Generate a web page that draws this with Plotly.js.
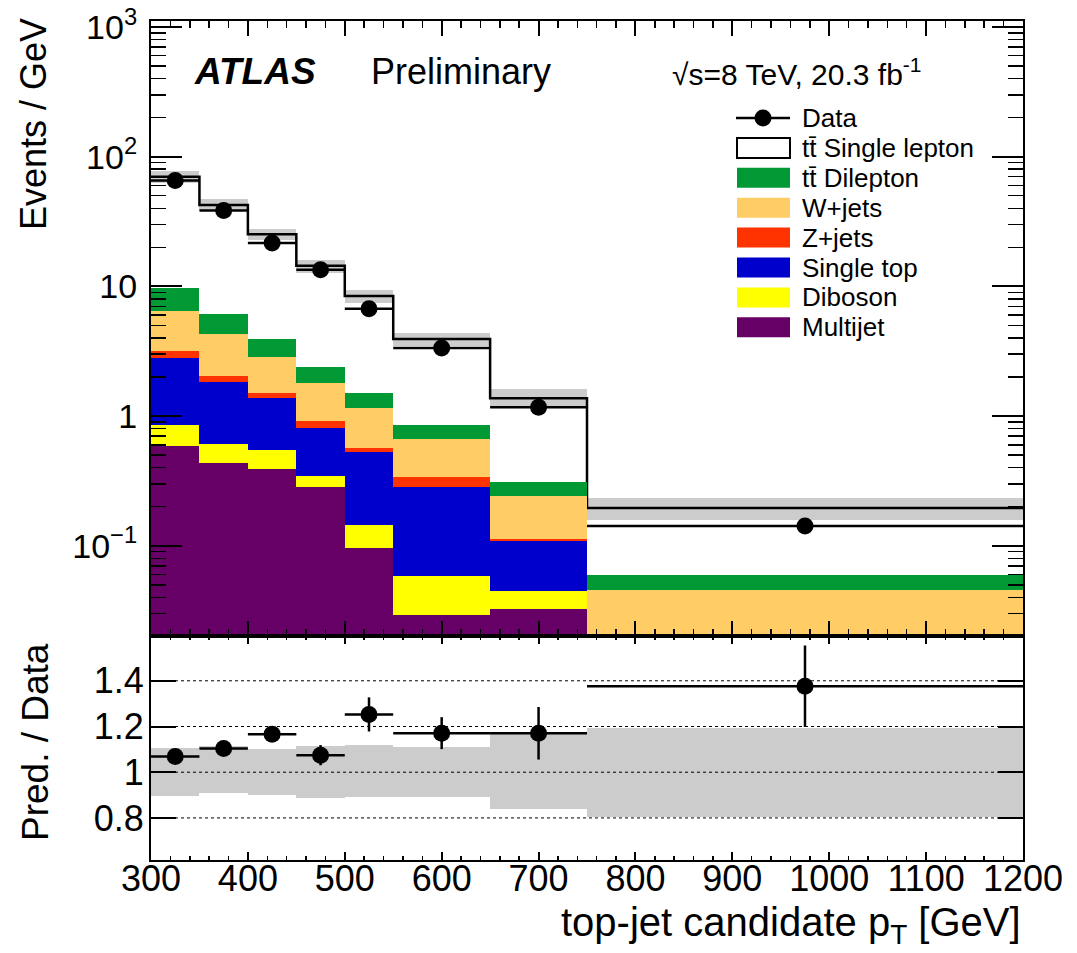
<!DOCTYPE html>
<html><head><meta charset="utf-8">
<script src="https://cdn.plot.ly/plotly-3.0.1.min.js"></script>
<style>html,body{margin:0;padding:0;background:#fff}</style>
</head><body><div id="plot" style="width:1077px;height:953px"></div>
<script>
// ---------- data (Events / GeV) ----------
const binEdges   = [300, 350, 400, 450, 500, 550, 650, 750, 1200];
const ttSingle   = [60.3, 36.3, 21.25, 12.0, 6.91, 3.07, 1.06, 0.136];
const ttDilepton = [3.2, 1.81, 1.08, 0.61, 0.35, 0.192, 0.067, 0.0139];
const wJets      = [3.33, 2.22, 1.37, 0.87, 0.59, 0.324, 0.130, 0.0385];
const zJets      = [0.39, 0.21, 0.13, 0.107, 0.045, 0.055, 0.0027, 0.001];
const singleTop  = [1.927, 1.232, 0.823, 0.466, 0.381, 0.223, 0.065, 0.004];
const diboson    = [0.263, 0.176, 0.159, 0.062, 0.047, 0.0295, 0.0122, 0.001];
const multijet   = [0.59, 0.432, 0.388, 0.285, 0.0966, 0.0292, 0.0325, 0.001];
const dataVals   = [65.5, 38.4, 21.6, 13.4, 6.72, 3.35, 1.17, 0.142];
const dataErr    = [1.2, 0.7, 0.55, 0.55, 0.4, 0.2, 0.115, 0.0184];
// relative prediction uncertainty (up / down)
const uncUp      = [0.108, 0.114, 0.102, 0.114, 0.117, 0.109, 0.178, 0.193];
const uncDn      = [0.102, 0.091, 0.099, 0.112, 0.109, 0.109, 0.163, 0.197];
// tick labels
const yTopTickVals  = [0.1, 1, 10, 100, 1000];
const yTopTickText  = ['10<sup>\u22121</sup>', '1', '10', '10<sup>2</sup>', '10<sup>3</sup>'];
const yRatTickVals  = [0.8, 1.0, 1.2, 1.4];
const yRatTickText  = ['0.8', '1', '1.2', '1.4'];

// ---------- derived ----------
const nb = binEdges.length - 1;
const centers = [], widths = [], halfW = [];
for (let i = 0; i < nb; i++) {
  centers.push((binEdges[i] + binEdges[i + 1]) / 2);
  widths.push(binEdges[i + 1] - binEdges[i]);
  halfW.push((binEdges[i + 1] - binEdges[i]) / 2);
}
const comps = [
  {name: 'Multijet',   vals: multijet,   color: '#660066'},
  {name: 'Diboson',    vals: diboson,    color: '#ffff00'},
  {name: 'Single top', vals: singleTop,  color: '#0000cc'},
  {name: 'Z+jets',     vals: zJets,      color: '#ff3300'},
  {name: 'W+jets',     vals: wJets,      color: '#ffcc66'},
  {name: 'tt\u0304 Dilepton', vals: ttDilepton, color: '#009933'}
];
const total = centers.map((_, i) =>
  ttSingle[i] + ttDilepton[i] + wJets[i] + zJets[i] + singleTop[i] + diboson[i] + multijet[i]);
const bandBase = total.map((t, i) => t * (1 - uncDn[i]));
const bandSize = total.map((t, i) => t * (uncUp[i] + uncDn[i]));
const ratio    = total.map((t, i) => t / dataVals[i]);
const ratioErr = ratio.map((r, i) => r * dataErr[i] / dataVals[i]);
const rBandBase = uncDn.map(d => 1 - d);
const rBandSize = uncDn.map((d, i) => d + uncUp[i]);
const stepX = binEdges.slice();
const stepY = total.concat([total[nb - 1]]);

const minorLog = [];
for (let e = -2; e <= 3; e++) for (let m = 2; m <= 9; m++) minorLog.push(m * Math.pow(10, e));

const FONT = 'Liberation Sans, Arial, Helvetica, sans-serif';
const BLK = '#000';
const LOGRANGE = [-1.696, 3.046];

// ---------- traces ----------
const traces = [];
// top base subplot: uncertainty band + total outline
traces.push({type: 'bar', x: centers, y: bandSize, base: bandBase, width: widths,
  marker: {color: '#cccccc', line: {width: 0}}, xaxis: 'x', yaxis: 'y', showlegend: false, hoverinfo: 'skip'});
traces.push({type: 'scatter', mode: 'lines', x: stepX, y: stepY, line: {shape: 'hv', color: BLK, width: 2.5},
  xaxis: 'x', yaxis: 'y', showlegend: false, hoverinfo: 'skip'});
// overlay subplot: stacked backgrounds + data
comps.forEach(c => traces.push({type: 'bar', name: c.name, x: centers, y: c.vals, width: widths,
  marker: {color: c.color, line: {width: 0}}, xaxis: 'x3', yaxis: 'y3', showlegend: false}));
traces.push({type: 'scatter', mode: 'markers', name: 'Data', x: centers, y: dataVals,
  marker: {color: BLK, size: 17},
  error_x: {type: 'data', array: halfW, color: BLK, thickness: 2.5, width: 0},
  error_y: {type: 'data', array: dataErr, color: BLK, thickness: 2.5, width: 0},
  xaxis: 'x3', yaxis: 'y3', showlegend: false});
// ratio panel
traces.push({type: 'bar', x: centers, y: rBandSize, base: rBandBase, width: widths,
  marker: {color: '#cccccc', line: {width: 0}}, xaxis: 'x2', yaxis: 'y2', showlegend: false, hoverinfo: 'skip'});
traces.push({type: 'scatter', mode: 'markers', x: centers, y: ratio,
  marker: {color: BLK, size: 17},
  error_x: {type: 'data', array: halfW, color: BLK, thickness: 2.5, width: 0},
  error_y: {type: 'data', array: ratioErr, color: BLK, thickness: 2.5, width: 0},
  xaxis: 'x2', yaxis: 'y2', showlegend: false});

// ---------- layout helpers (pixel -> paper) ----------
const L = 151, R = 1023, T = 21, B = 860;
const px = v => (v - L) / (R - L);
const py = v => (B - v) / (B - T);

const shapes = [], annotations = [];
yRatTickVals.forEach(v => shapes.push({type: 'line', xref: 'paper', yref: 'y2', x0: 0, x1: 1, y0: v, y1: v,
  line: {color: BLK, width: 1, dash: 'dot'}, layer: 'above'}));

// legend
const legendItems = [
  {label: 'Data', kind: 'data'},
  {label: 'tt\u0304 Single lepton', kind: 'box', fill: '#ffffff', border: true},
  {label: 'tt\u0304 Dilepton', kind: 'box', fill: '#009933'},
  {label: 'W+jets', kind: 'box', fill: '#ffcc66'},
  {label: 'Z+jets', kind: 'box', fill: '#ff3300'},
  {label: 'Single top', kind: 'box', fill: '#0000cc'},
  {label: 'Diboson', kind: 'box', fill: '#ffff00'},
  {label: 'Multijet', kind: 'box', fill: '#660066'}
];
legendItems.forEach((it, i) => {
  const yc = 118 + i * 29.9;
  if (it.kind === 'data') {
    shapes.push({type: 'line', xref: 'paper', yref: 'paper', x0: px(736), x1: px(790), y0: py(yc), y1: py(yc),
      line: {color: BLK, width: 2.5}});
    shapes.push({type: 'circle', xref: 'paper', yref: 'paper', x0: px(754.5), x1: px(771.5), y0: py(yc - 8.5), y1: py(yc + 8.5),
      fillcolor: BLK, line: {color: BLK, width: 0}});
  } else {
    shapes.push({type: 'rect', xref: 'paper', yref: 'paper', x0: px(737), x1: px(790), y0: py(yc - 10), y1: py(yc + 10),
      fillcolor: it.fill, line: {color: it.border ? BLK : it.fill, width: it.border ? 2 : 0}});
  }
  annotations.push({xref: 'paper', yref: 'paper', x: px(800), y: py(yc), xanchor: 'left', yanchor: 'middle',
    text: it.label, showarrow: false, font: {family: FONT, size: 26, color: BLK}});
});

annotations.push({xref: 'paper', yref: 'paper', x: px(192), y: py(72), xanchor: 'left', yanchor: 'middle',
  text: '<b><i>ATLAS</i></b>', showarrow: false, font: {family: FONT, size: 37, color: BLK}});
annotations.push({xref: 'paper', yref: 'paper', x: px(369), y: py(72), xanchor: 'left', yanchor: 'middle',
  text: 'Preliminary', showarrow: false, font: {family: FONT, size: 36, color: BLK}});
annotations.push({xref: 'paper', yref: 'paper', x: px(670), y: py(72), xanchor: 'left', yanchor: 'middle',
  text: '\u221As=8 TeV, 20.3 fb<sup>-1</sup>', showarrow: false, font: {family: FONT, size: 30, color: BLK}});
// axis titles
annotations.push({xref: 'paper', yref: 'paper', x: px(34), y: py(16), xanchor: 'center', yanchor: 'top', textangle: -90,
  text: 'Events / GeV', showarrow: false, font: {family: FONT, size: 36, color: BLK}});
annotations.push({xref: 'paper', yref: 'paper', x: px(35), y: py(742), xanchor: 'center', yanchor: 'middle', textangle: -90,
  text: 'Pred. / Data', showarrow: false, font: {family: FONT, size: 37, color: BLK}});
annotations.push({xref: 'paper', yref: 'paper', x: 1, y: py(925), xanchor: 'right', yanchor: 'middle',
  text: 'top-jet candidate p<sub>T</sub> [GeV]', showarrow: false, font: {family: FONT, size: 40, color: BLK}});

const axCommon = {showline: true, linewidth: 2, linecolor: BLK, mirror: 'ticks', showgrid: false, zeroline: false,
  ticks: 'inside', tickcolor: BLK, tickwidth: 2};

const layout = {
  width: 1077, height: 953,
  margin: {l: L, r: 1077 - R, t: T, b: 953 - B, autoexpand: false},
  paper_bgcolor: '#fff', plot_bgcolor: '#fff',
  font: {family: FONT, color: BLK},
  barmode: 'stack', bargap: 0, showlegend: false,
  xaxis: Object.assign({}, axCommon, {domain: [0, 1], anchor: 'y', range: [300, 1200], tick0: 0, dtick: 100,
    ticklen: 15, showticklabels: false,
    minor: {ticks: 'inside', ticklen: 7, tickwidth: 1.5, tickcolor: BLK, tick0: 0, dtick: 20}}),
  yaxis: Object.assign({}, axCommon, {domain: [0.267, 1], anchor: 'x', type: 'log', range: LOGRANGE,
    tickmode: 'array', tickvals: yTopTickVals, ticktext: yTopTickText, ticklen: 31,
    tickfont: {family: FONT, size: 34, color: BLK}, ticklabelstandoff: 5,
    minor: {tickmode: 'array', tickvals: minorLog, ticks: 'inside', ticklen: 15, tickwidth: 1.5, tickcolor: BLK}}),
  xaxis3: {overlaying: 'x', anchor: 'y3', range: [300, 1200], visible: false},
  yaxis3: {overlaying: 'y', anchor: 'x3', type: 'log', range: LOGRANGE, visible: false},
  xaxis2: Object.assign({}, axCommon, {domain: [0, 1], anchor: 'y2', range: [300, 1200], tick0: 0, dtick: 100,
    ticklen: 8, tickfont: {family: FONT, size: 36, color: BLK}, ticklabelstandoff: -14,
    minor: {ticks: 'inside', ticklen: 4, tickwidth: 1.5, tickcolor: BLK, tick0: 0, dtick: 20}}),
  yaxis2: Object.assign({}, axCommon, {domain: [0, 0.267], anchor: 'x2', range: [0.616, 1.596],
    tickmode: 'array', tickvals: yRatTickVals, ticktext: yRatTickText, ticklen: 25,
    tickfont: {family: FONT, size: 36, color: BLK}, ticklabelstandoff: -2}),
  shapes: shapes,
  annotations: annotations
};

Plotly.newPlot('plot', traces, layout, {staticPlot: true, displayModeBar: false});
</script>
</body></html>
